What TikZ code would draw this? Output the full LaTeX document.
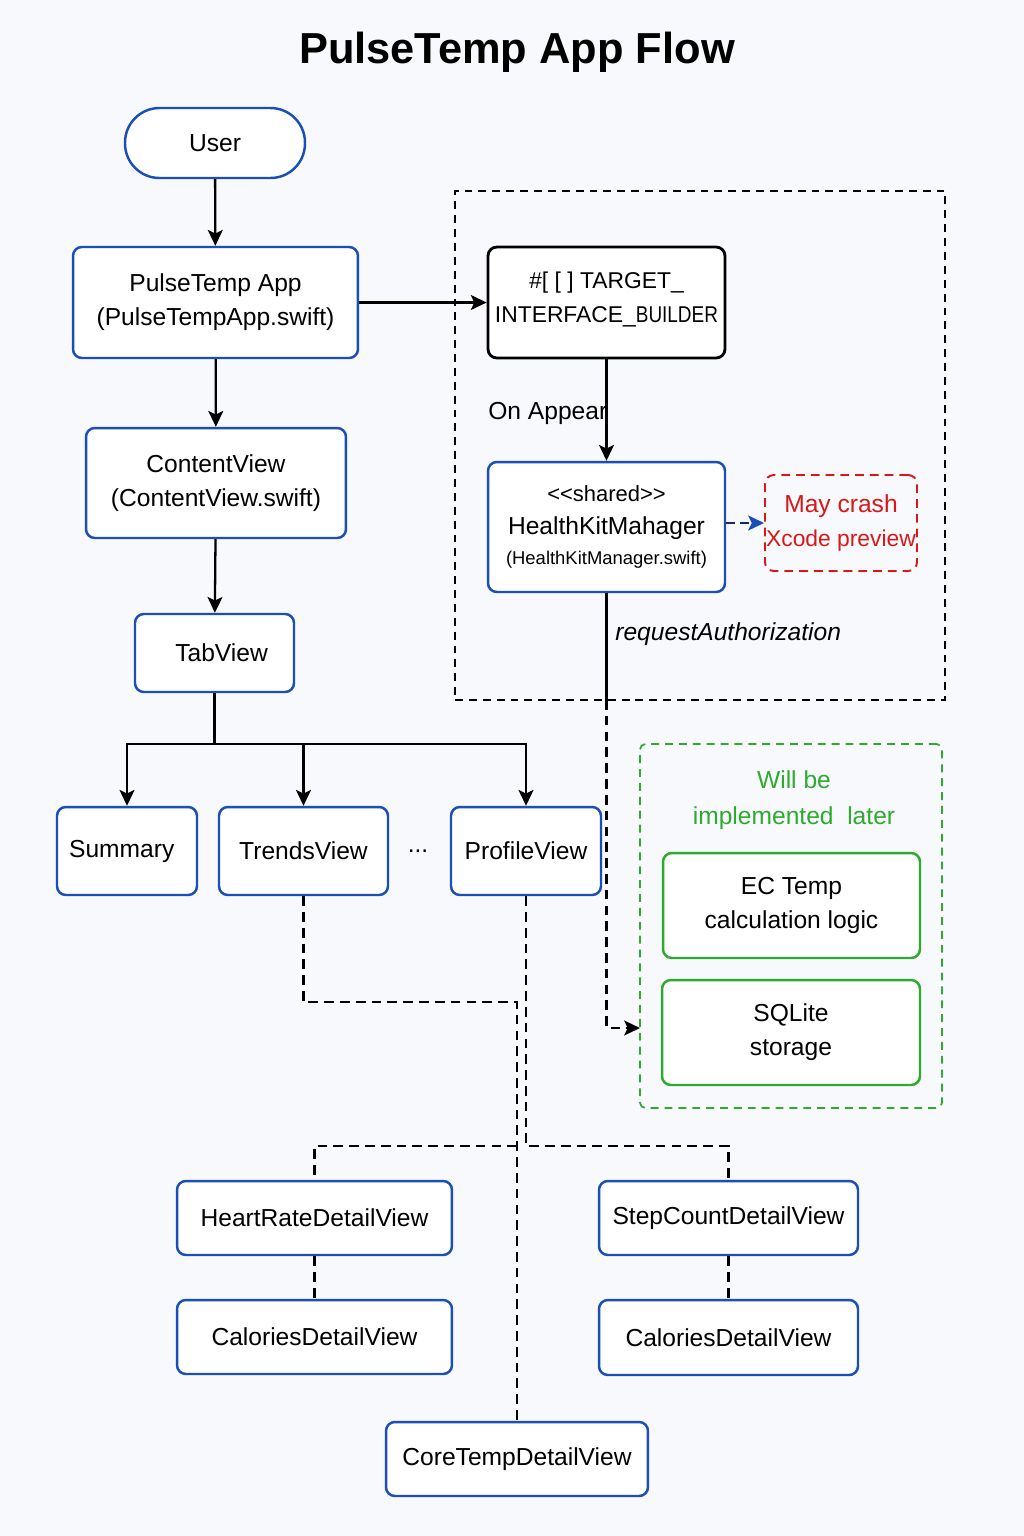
\documentclass[tikz,border=0pt]{standalone}
\usepackage{fontspec}
\usepackage{graphicx}
\setmainfont{Liberation Sans}
\usetikzlibrary{arrows.meta}
\definecolor{bgc}{HTML}{F7F9FC}
\definecolor{bblue}{HTML}{1A4FB8}
\definecolor{ggreen}{HTML}{2EAA2E}
\definecolor{rred}{HTML}{D81818}
\definecolor{navy}{HTML}{1A2A6C}
\begin{document}
\begin{tikzpicture}[x=0.02cm,y=-0.02cm,
  box/.style={draw=bblue, line width=1.4pt, fill=white, rounded corners=5pt, align=center, inner sep=0pt, font=\fontsize{14}{19.3}\selectfont},
  blackbox/.style={box, draw=black, line width=1.6pt},
  greenbox/.style={box, draw=ggreen},
  tip/.style={-{Stealth[length=9pt,width=8.5pt,inset=2pt]}},
  arr/.style={tip, line width=1.3pt},
  dsh/.style={line width=1.25pt, dash pattern=on 5.5pt off 3.5pt},
  lbl/.style={font=\fontsize{14}{19.3}\selectfont, inner sep=0pt}]
\useasboundingbox (0,0) rectangle (1024,1536);
\fill[bgc] (0,0) rectangle (1024,1536);

\node[font=\bfseries\fontsize{24.7}{30}\selectfont] (title) at (517,52) {PulseTemp App Flow};

% containers
\node[draw=black, line width=1.2pt, dash pattern=on 4.5pt off 3.4pt, minimum width=9.8cm, minimum height=10.18cm, inner sep=0pt] (grp) at (700,445.5) {};
\node[draw=ggreen, line width=1pt, dash pattern=on 4.5pt off 3.4pt, rounded corners=3pt, minimum width=6.04cm, minimum height=7.28cm, inner sep=0pt] (later) at (791,926) {};

% left column
\node[box, minimum width=3.6cm, minimum height=1.4cm, rounded corners=0.69cm] (user) at (215,143) {User};
\node[box, minimum width=5.7cm, minimum height=2.22cm] (app) at (215.5,302.5) {PulseTemp App\\(PulseTempApp.swift)};
\node[box, minimum width=5.2cm, minimum height=2.2cm] (content) at (216,483) {ContentView\\(ContentView.swift)};
\node[box, minimum width=3.18cm, minimum height=1.56cm] (tab) at (214.5,653) {\hspace{8pt}TabView};
\node[box, minimum width=2.8cm, minimum height=1.76cm] (summary) at (127,851) {\hspace{-6pt}Summary};
\node[box, minimum width=3.38cm, minimum height=1.76cm] (trends) at (303.5,851) {TrendsView};
\node[lbl] (dots) at (418,851) {...};
\node[box, minimum width=3.0cm, minimum height=1.76cm] (profile) at (526,851) {ProfileView};

% right group
\node[blackbox, minimum width=4.74cm, minimum height=2.22cm, font=\fontsize{13}{19}\selectfont] (target) at (606.5,302.5) {\#[ [ ] TARGET\_\\INTERFACE\_\scalebox{0.83}[1]{BUILDER}\\[-13pt]};
\node[box, minimum width=4.74cm, minimum height=2.6cm, font=\fontsize{14}{18.7}\selectfont] (hk) at (606.5,527) {{\fontsize{12.5}{18.7}\selectfont <{}<shared>{}>}\\HealthKitMahager\\[-1.5pt]{\fontsize{10.5}{13}\selectfont (HealthKitManager.swift)}};
\node[draw=rred, line width=1.1pt, dash pattern=on 5pt off 3.4pt, rounded corners=5pt, minimum width=3.04cm, minimum height=1.92cm, inner sep=0pt, align=center, text=rred, font=\fontsize{14}{19.3}\selectfont] (crash) at (841,523) {May crash\\{\fontsize{13}{19.3}\selectfont Xcode preview}};
\node[lbl, anchor=west] (onapp) at (488,413) {On Appear};
\node[lbl, anchor=west, font=\itshape\fontsize{14}{19.3}\selectfont] (reqa) at (615,634) {requestAuthorization};

% later group
\node[lbl, text=ggreen, align=center, font=\fontsize{14}{20.4}\selectfont] (willbe) at (794,800) {Will be\\implemented~~later};
\node[greenbox, minimum width=5.14cm, minimum height=2.1cm] (ec) at (791.5,905.5) {EC Temp\\calculation logic};
\node[greenbox, minimum width=5.16cm, minimum height=2.1cm] (sql) at (791,1032.5) {SQLite\\storage};

% detail views
\node[box, minimum width=5.5cm, minimum height=1.48cm] (heart) at (314.5,1218) {HeartRateDetailView};
\node[box, minimum width=5.18cm, minimum height=1.48cm] (step) at (728.5,1218) {StepCountDetailView};
\node[box, minimum width=5.5cm, minimum height=1.48cm] (cal1) at (314.5,1337) {CaloriesDetailView};
\node[box, minimum width=5.18cm, minimum height=1.5cm] (cal2) at (728.5,1337.5) {CaloriesDetailView};
\node[box, minimum width=5.24cm, minimum height=1.48cm] (core) at (517,1459) {CoreTempDetailView};

% coordinates
\coordinate (tb) at (214.5,744);
\coordinate (ra) at (606.5,700);
\coordinate (gin) at (640,1028);
\coordinate (j1) at (517,1002);
\coordinate (j2) at (517,1146);
\coordinate (j3) at (526,1146);

% solid connectors
\draw[arr] (user) -- (app);
\draw[arr] (app) -- (content);
\draw[arr] (content) -- (tab);
\draw[line width=1.3pt] (tab.south) -- (tb);
\draw[arr] (tb) -| (summary.north);
\draw[arr] (tb) -| (trends.north);
\draw[arr] (tb) -| (profile.north);
\draw[arr] (app.east) -- (target.west);
\draw[arr] (target) -- (hk);
\draw[line width=1.3pt] (hk.south) -- (ra);
\draw[dsh, tip] (ra) |- (gin);
\draw[navy, line width=1.2pt, dash pattern=on 5pt off 3pt, -{Stealth[length=9pt,width=8.5pt,inset=2pt,color=bblue]}] (hk.east |- crash.west) -- (crash.west);

% dashed connectors
\draw[dsh] (trends.south) |- (j1) -- (core.north);
\draw[dsh] (j2) -| (heart.north);
\draw[dsh] (profile.south) -- (j3) -| (step.north);
\draw[dsh] (heart) -- (cal1);
\draw[dsh] (step) -- (cal2);
\end{tikzpicture}
\end{document}
